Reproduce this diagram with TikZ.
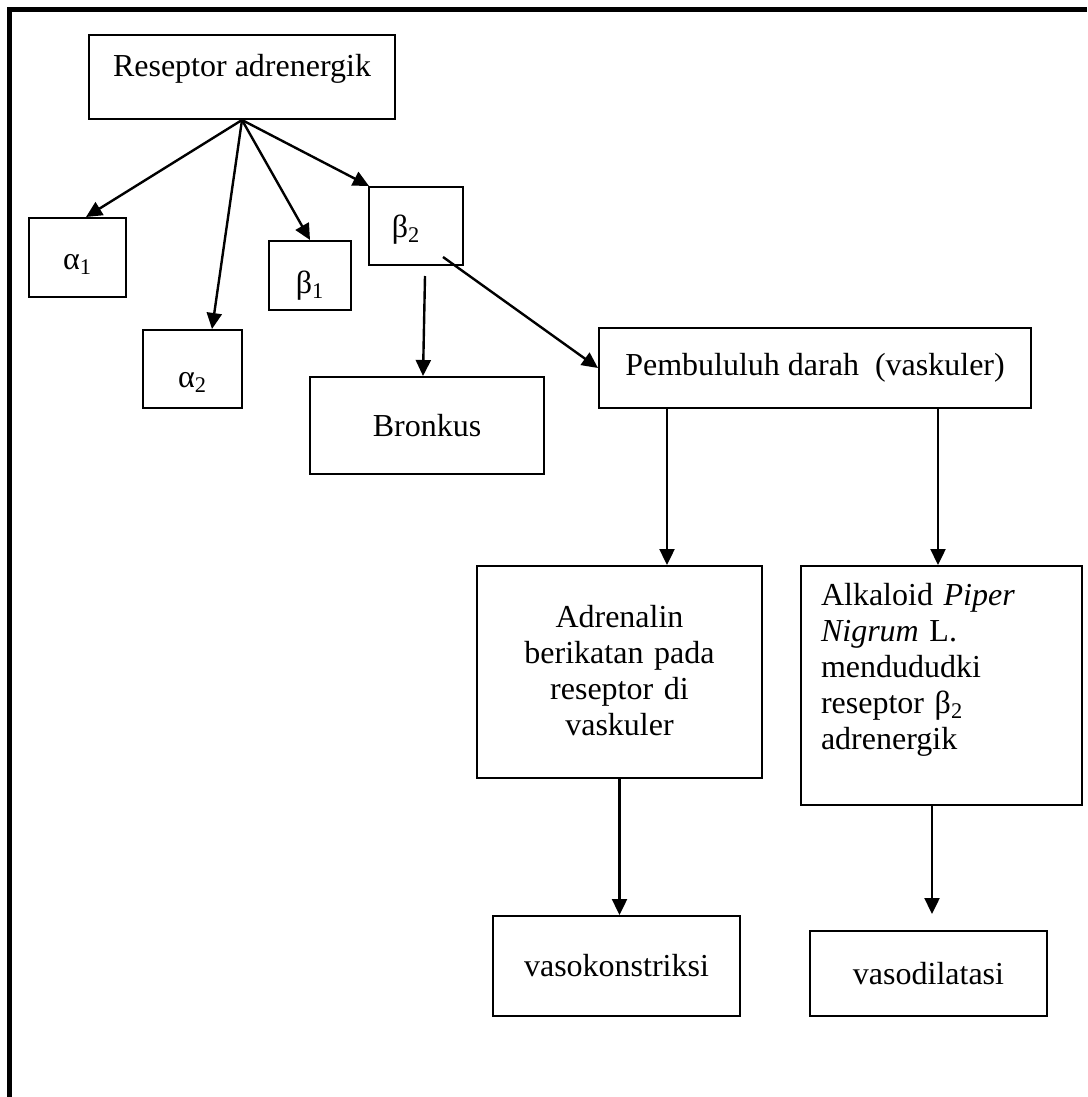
\documentclass[tikz,border=0pt]{standalone}
\usepackage{fontspec}
\setmainfont{Liberation Serif}
\usetikzlibrary{arrows.meta,calc}

\tikzset{
  box/.style={draw,line width=1pt,inner sep=0pt},
  arr/.style={->,line width=1.2pt}
}

\begin{document}
\begin{tikzpicture}[x=0.5pt,y=-0.5pt,>={Triangle[length=8pt,width=7.5pt]},font=\fontsize{16pt}{18pt}\selectfont]
  \useasboundingbox (0,0) rectangle (1087,1097);
  \draw[line width=2.5pt] (9.5,1097) |- (1087,9.5);

  \node[box,minimum width=153pt,text height=20.5pt,text depth=21.5pt] (res) at (242,77) {Reseptor adrenergik};
  \node[box,minimum width=48.5pt,text height=25.5pt,text depth=14pt] (a1) at (77.5,257.5) {α\textsubscript{1}};
  \node[box,minimum width=49.5pt,text height=28.5pt,text depth=10.5pt] (a2) at (192.5,369) {α\textsubscript{2}};
  \node[box,minimum width=41pt,text height=26pt,text depth=8.5pt] (b1) at (310,275.5) {β\textsubscript{1}};
  \node[box,minimum width=47pt,text height=25pt,text depth=14pt] (b2) at (416,226) {β\textsubscript{2}\hspace*{10pt}};
  \node[box,minimum width=117pt,minimum height=48.5pt] (bronkus) at (427,425.5) {Bronkus};
  \node[box,minimum width=216pt,minimum height=40pt] (pemb) at (815,368) {Pembululuh darah~ (vaskuler)};
  \node[box,text width=142.5pt,align=center,text height=30.5pt,text depth=75.5pt] (adr) at (619.5,672)
    {Adrenalin\\berikatan pada\\reseptor di\\vaskuler};
  \node[box,text width=120.5pt,minimum width=140.5pt,align=left,text height=19.5pt,text depth=100pt] (alk) at (941.5,685.5)
    {Alkaloid \textit{Piper}\\\textit{Nigrum} L.\\mendududki\\reseptor β\textsubscript{2}\\adrenergik};
  \node[box,minimum width=123.5pt,minimum height=50pt] (vk) at (616.5,966) {vasokonstriksi};
  \node[box,minimum width=118.5pt,minimum height=42.5pt] (vd) at (928.5,973.5) {vasodilatasi};

  \foreach \t/\dx in {a1/8.5,a2/19.5,b1/0,b2/-47}
    \draw[arr] (res.south) -- ($(\t.north)+(\dx,0)$);
  \draw[arr] ($(b2.south)+(9,10)$) -- ($(bronkus.north)+(-4,0)$);
  \draw[arr] ($(b2.south east)+(-21,-9)$) -- (pemb.west);

  \coordinate (p1) at ($(pemb.south west)+(69,0)$);
  \coordinate (p2) at ($(pemb.south west)+(340,0)$);
  \coordinate (p3) at ($(alk.south west)+(132,0)$);
  \draw[arr] (p1) -- (p1 |- adr.north);
  \draw[arr] (p2) -- (p2 |- alk.north);
  \draw[arr] (adr.south) -- (adr.south |- vk.north);
  \draw[arr,shorten >=8pt] (p3) -- (p3 |- vd.north);
\end{tikzpicture}
\end{document}
